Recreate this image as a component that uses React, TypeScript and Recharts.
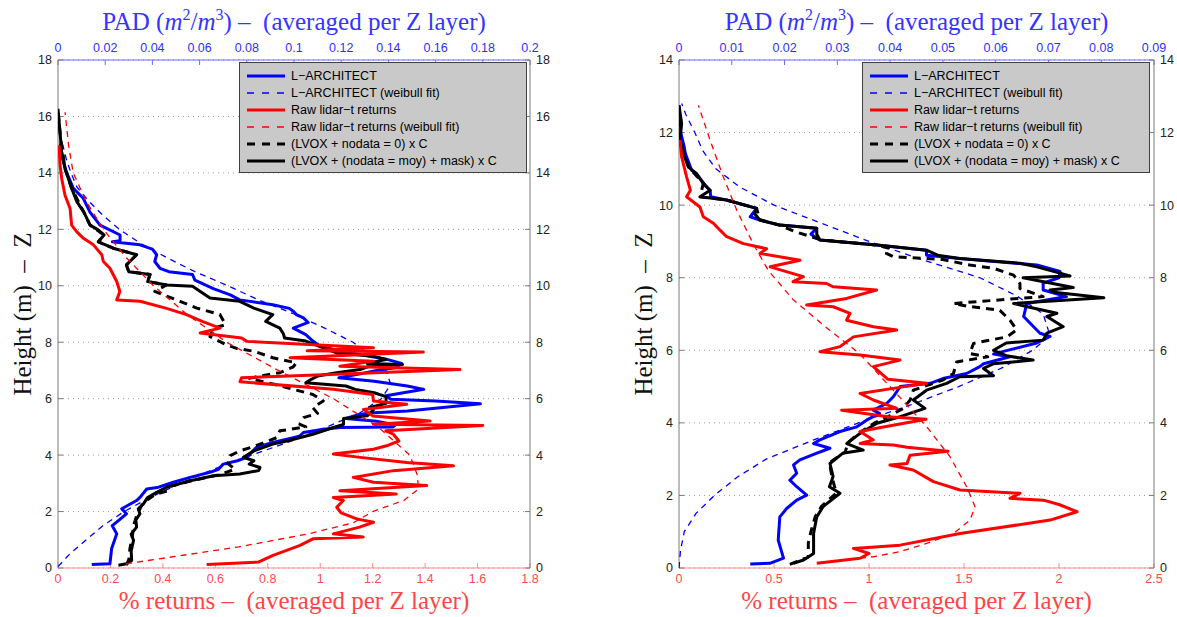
import React from 'react';
import { ScatterChart, Scatter, XAxis, YAxis, CartesianGrid, Legend, Label } from 'recharts';

type Pt = [number, number]; // [height (m), value]

// ---------------- Left panel ----------------
const leftPadTicks = [0, 0.02, 0.04, 0.06, 0.08, 0.1, 0.12, 0.14, 0.16, 0.18, 0.2];
const leftReturnTicks = [0, 0.2, 0.4, 0.6, 0.8, 1, 1.2, 1.4, 1.6, 1.8];
const leftHeightTicks = [0, 2, 4, 6, 8, 10, 12, 14, 16, 18];

const leftBlue: Pt[] = [
  [0.12, 0.0143], [0.15, 0.022], [0.68, 0.0227], [1.21, 0.0249], [1.5, 0.023], [1.68, 0.0256], [1.92, 0.029],
  [2.1, 0.027], [2.39, 0.0333], [2.5, 0.0347], [2.8, 0.0376], [2.85, 0.042], [3.04, 0.0489], [3.21, 0.056],
  [3.39, 0.0644], [3.5, 0.068], [3.68, 0.07], [3.8, 0.076], [3.92, 0.08], [4.1, 0.082], [4.27, 0.084],
  [4.45, 0.091], [4.62, 0.0997], [4.68, 0.1025], [4.8, 0.104], [4.92, 0.1124], [4.98, 0.1195], [5.0, 0.142],
  [5.07, 0.143], [5.2, 0.135], [5.3, 0.122], [5.45, 0.128], [5.5, 0.134], [5.56, 0.148], [5.68, 0.162],
  [5.82, 0.179], [5.92, 0.16], [5.98, 0.141], [6.1, 0.139], [6.33, 0.155], [6.45, 0.148], [6.62, 0.134],
  [6.74, 0.119], [6.86, 0.127], [7.0, 0.135], [7.1, 0.1435], [7.25, 0.1456], [7.4, 0.139], [7.56, 0.128],
  [7.7, 0.119], [7.86, 0.111], [8.04, 0.108], [8.27, 0.105], [8.5, 0.0997], [8.7, 0.106], [8.86, 0.104],
  [8.98, 0.101], [9.1, 0.0997], [9.2, 0.098], [9.33, 0.091], [9.5, 0.077], [9.68, 0.073], [9.9, 0.0658],
  [10.2, 0.058], [10.4, 0.057], [10.5, 0.047], [10.62, 0.0432], [10.86, 0.041], [11.1, 0.0418], [11.3, 0.04],
  [11.45, 0.0347], [11.56, 0.023], [11.6, 0.0263], [11.8, 0.0263], [12.15, 0.0178], [12.6, 0.0136],
  [13.1, 0.0107], [13.45, 0.0065], [14.04, 0.0035], [14.5, 0.002], [15.04, 0.001],
];

const leftBlueFit: Pt[] = [
  [0.05, 0], [0.5, 0.005], [1, 0.012], [1.5, 0.019], [2, 0.028], [2.5, 0.039], [3, 0.052], [3.5, 0.066],
  [4, 0.082], [4.5, 0.099], [5, 0.114], [5.5, 0.128], [6, 0.137], [6.5, 0.141], [7, 0.139], [7.5, 0.133],
  [8, 0.125], [8.5, 0.113], [9, 0.1], [9.5, 0.085], [10, 0.072], [10.5, 0.058], [11, 0.046], [11.5, 0.035],
  [12, 0.026], [12.5, 0.019], [13, 0.013], [13.5, 0.008], [14, 0.0055], [14.5, 0.0035], [15, 0.002],
];

const leftRed: Pt[] = [
  [0.12, 0.567], [0.21, 0.764], [0.45, 0.82], [0.8, 0.923], [1.04, 0.974], [1.1, 1.164], [1.21, 1.05],
  [1.45, 1.15], [1.62, 1.203], [1.74, 1.139], [1.95, 1.08], [2.15, 1.063], [2.39, 1.088], [2.5, 1.05],
  [2.62, 1.29], [2.74, 1.075], [2.92, 1.406], [3.04, 1.203], [3.21, 1.126], [3.45, 1.279], [3.62, 1.508],
  [3.74, 1.33], [3.92, 1.152], [4.04, 1.05], [4.21, 1.203], [4.33, 1.253], [4.5, 1.3], [4.74, 1.279],
  [4.86, 1.25], [5.05, 1.62], [5.09, 1.203], [5.21, 1.419], [5.39, 1.2], [5.62, 1.165], [5.8, 1.33],
  [5.92, 1.203], [6.15, 1.2], [6.33, 1.05], [6.6, 0.694], [6.74, 0.7], [6.86, 1.037], [7.03, 1.533],
  [7.15, 1.075], [7.33, 1.203], [7.45, 0.885], [7.65, 1.393], [7.7, 0.95], [7.8, 1.203], [8.03, 0.72],
  [8.15, 0.7], [8.33, 0.542], [8.5, 0.618], [8.74, 0.55], [8.98, 0.49], [9.2, 0.414], [9.45, 0.313],
  [9.5, 0.224], [9.8, 0.236], [10.15, 0.224], [10.62, 0.198], [10.86, 0.173], [11.1, 0.167], [11.45, 0.135],
  [11.68, 0.097], [11.92, 0.071], [12.15, 0.052], [12.74, 0.046], [13.2, 0.027], [13.8, 0.014], [14.27, 0.008],
  [14.98, 0.004],
];

const leftRedFit: Pt[] = [
  [0.15, 0.26], [0.4, 0.44], [0.75, 0.69], [1.2, 0.95], [1.6, 1.126], [2.0, 1.2], [2.4, 1.32], [2.8, 1.375],
  [3.3, 1.37], [4, 1.342], [5, 1.22], [6, 1.05], [7, 0.84], [8, 0.643], [9, 0.49], [10, 0.364], [11, 0.26],
  [12, 0.173], [13, 0.107], [14, 0.058], [15, 0.04], [16.15, 0.027],
];

const leftLvoxZero: Pt[] = [
  [0.1, 0.029], [0.3, 0.03], [0.7, 0.0305], [1.1, 0.0315], [1.5, 0.032], [1.9, 0.0335], [2.3, 0.036],
  [2.6, 0.041], [2.75, 0.047], [2.9, 0.048], [3.1, 0.057], [3.3, 0.068], [3.5, 0.075], [3.7, 0.072],
  [3.98, 0.073], [4.15, 0.077], [4.3, 0.0828], [4.62, 0.0927], [4.86, 0.094], [5.0, 0.105], [5.09, 0.1025],
  [5.33, 0.104], [5.48, 0.11], [5.68, 0.108], [5.92, 0.1124], [6.15, 0.108], [6.33, 0.0997], [6.5, 0.092],
  [6.72, 0.081], [6.8, 0.0856], [6.92, 0.094], [7.13, 0.0997], [7.27, 0.101], [7.45, 0.091], [7.68, 0.083],
  [7.78, 0.0757], [7.92, 0.071], [8.2, 0.0644], [8.5, 0.066], [8.62, 0.071], [8.98, 0.0686], [9.21, 0.0588],
  [9.45, 0.0517], [9.8, 0.041], [10.03, 0.046], [10.15, 0.038], [10.4, 0.039], [10.5, 0.03], [10.74, 0.029],
  [11.1, 0.0333], [11.33, 0.0234], [11.56, 0.0171], [11.8, 0.0195], [12.15, 0.0136], [12.6, 0.011],
  [13.45, 0.0058], [14.15, 0.003], [15.3, 0.001], [16.2, 0.0],
];

const leftLvoxMask: Pt[] = [
  [0.1, 0.0256], [0.15, 0.029], [0.27, 0.0312], [0.6, 0.031], [0.98, 0.032], [1.2, 0.031], [1.45, 0.0333],
  [1.7, 0.033], [1.92, 0.0347], [2.1, 0.034], [2.27, 0.0362], [2.5, 0.038], [2.68, 0.0418], [2.86, 0.046],
  [3.09, 0.056], [3.27, 0.066], [3.33, 0.077], [3.45, 0.085], [3.56, 0.0856], [3.68, 0.081], [3.8, 0.083],
  [3.92, 0.0786], [4.15, 0.083], [4.39, 0.091], [4.5, 0.097], [4.74, 0.108], [4.98, 0.1167], [5.09, 0.121],
  [5.3, 0.121], [5.39, 0.131], [5.6, 0.1336], [5.68, 0.132], [5.84, 0.139], [6.07, 0.139], [6.21, 0.134],
  [6.33, 0.126], [6.45, 0.122], [6.56, 0.105], [6.66, 0.1068], [6.8, 0.11], [6.92, 0.118], [7.03, 0.128],
  [7.15, 0.132], [7.21, 0.146], [7.25, 0.131], [7.39, 0.139], [7.5, 0.134], [7.62, 0.118], [7.72, 0.115],
  [8.04, 0.105], [8.15, 0.096], [8.3, 0.0955], [8.5, 0.094], [8.74, 0.088], [8.98, 0.091], [9.21, 0.083],
  [9.45, 0.077], [9.57, 0.0644], [9.98, 0.057], [10.03, 0.046], [10.15, 0.038], [10.4, 0.039], [10.5, 0.03],
  [10.74, 0.029], [11.1, 0.0333], [11.33, 0.0234], [11.56, 0.0171], [11.8, 0.0195], [11.98, 0.017],
  [12.15, 0.0136], [12.6, 0.011], [12.98, 0.008], [13.45, 0.0058], [14.15, 0.003], [14.74, 0.0015],
  [15.3, 0.001], [16.27, 0.0],
];

// ---------------- Right panel ----------------
const rightPadTicks = [0, 0.01, 0.02, 0.03, 0.04, 0.05, 0.06, 0.07, 0.08, 0.09];
const rightReturnTicks = [0, 0.5, 1, 1.5, 2, 2.5];
const rightHeightTicks = [0, 2, 4, 6, 8, 10, 12, 14];

const rightBlue: Pt[] = [
  [0.11, 0.0135], [0.13, 0.0172], [0.27, 0.0198], [0.77, 0.0188], [1.41, 0.0191], [1.64, 0.0204],
  [1.87, 0.0223], [2.01, 0.0242], [2.24, 0.0223], [2.42, 0.021], [2.61, 0.0223], [2.84, 0.0217],
  [2.98, 0.0229], [3.16, 0.026], [3.3, 0.0286], [3.43, 0.0255], [3.53, 0.0267], [3.76, 0.0305],
  [3.89, 0.0337], [4.08, 0.0356], [4.26, 0.038], [4.35, 0.0368], [4.54, 0.0394], [4.72, 0.0406],
  [5.0, 0.0419], [5.09, 0.0476], [5.22, 0.05], [5.36, 0.0545], [5.55, 0.057], [5.63, 0.0577],
  [5.82, 0.0627], [5.9, 0.0596], [6.2, 0.0678], [6.38, 0.0703], [6.47, 0.0684], [6.75, 0.0665],
  [6.93, 0.0653], [7.29, 0.0659], [7.48, 0.0734], [7.66, 0.069], [7.85, 0.069], [8.0, 0.072],
  [8.17, 0.0722], [8.35, 0.0678], [8.53, 0.0532], [8.62, 0.0469], [8.76, 0.0469], [8.9, 0.0375],
  [9.04, 0.0267], [9.2, 0.025], [9.36, 0.0261], [9.45, 0.0191], [9.59, 0.0153], [9.68, 0.0135],
  [9.91, 0.0147], [10.14, 0.009], [10.23, 0.006], [10.41, 0.0059], [10.5, 0.0052], [10.87, 0.0033],
  [10.96, 0.0024], [11.42, 0.0012], [11.6, 0.001], [12.07, 0.0002], [12.75, 0.0],
];

const rightBlueFit: Pt[] = [
  [0, 0], [0.5, 0.0003], [1, 0.001], [1.5, 0.0032], [2, 0.0067], [2.5, 0.011], [3, 0.0165], [3.5, 0.025],
  [4, 0.034], [4.5, 0.044], [5, 0.053], [5.5, 0.061], [6, 0.067], [6.4, 0.0703], [7, 0.069], [7.5, 0.064],
  [8, 0.057], [8.5, 0.046], [9, 0.036], [9.5, 0.027], [10, 0.018], [10.5, 0.0115], [11, 0.007],
  [11.5, 0.0045], [12, 0.003], [12.5, 0.0013], [12.8, 0.0005],
];

const rightRed: Pt[] = [
  [0.13, 0.725], [0.27, 0.953], [0.4, 1.0], [0.54, 0.918], [0.63, 1.163], [0.95, 1.479], [1.32, 1.953],
  [1.55, 2.095], [1.75, 2.0], [1.87, 1.918], [1.92, 1.742], [2.06, 1.795], [2.15, 1.479], [2.38, 1.339],
  [2.7, 1.233], [2.84, 1.11], [2.88, 1.2], [3.11, 1.216], [3.22, 1.416], [3.33, 1.2], [3.39, 1.128],
  [3.43, 0.953], [3.53, 1.023], [3.76, 0.953], [3.85, 1.04], [4.1, 1.3], [4.17, 1.1], [4.35, 0.856],
  [4.4, 1.146], [4.63, 1.023], [4.81, 0.953], [4.95, 1.128], [5.09, 1.304], [5.2, 1.1], [5.55, 1.023],
  [5.73, 1.163], [5.87, 0.953], [5.96, 0.742], [6.1, 0.847], [6.37, 0.918], [6.56, 1.146], [6.65, 1.023],
  [6.83, 0.882], [7.02, 0.9], [7.2, 0.812], [7.25, 0.672], [7.43, 0.882], [7.66, 1.04], [7.75, 0.812],
  [7.84, 0.777], [7.89, 0.6], [8.03, 0.654], [8.3, 0.48], [8.48, 0.637], [8.67, 0.426], [8.8, 0.461],
  [8.94, 0.339], [9.13, 0.251], [9.31, 0.216], [9.5, 0.181], [9.68, 0.128], [9.95, 0.11], [10.23, 0.04],
  [10.41, 0.06], [10.78, 0.04], [11.33, 0.014], [11.8, 0.005],
];

const rightRedFit: Pt[] = [
  [0.27, 0.953], [0.31, 1.023], [0.45, 1.163], [0.68, 1.304], [0.95, 1.444], [1.32, 1.532], [1.69, 1.558],
  [2.24, 1.514], [3.07, 1.426], [3.89, 1.304], [4.9, 1.128], [5.91, 0.95], [6.65, 0.77], [7.4, 0.6],
  [8.2, 0.47], [8.94, 0.39], [9.86, 0.304], [10.78, 0.233], [11.8, 0.163], [12.75, 0.102],
];

const rightLvoxZero: Pt[] = [
  [0.1, 0.021], [0.3, 0.0245], [0.7, 0.0245], [1.0, 0.025], [1.41, 0.0258], [1.7, 0.027], [2.06, 0.0298],
  [2.5, 0.029], [2.9, 0.0285], [3.2, 0.0315], [3.45, 0.032], [3.71, 0.034], [3.99, 0.037], [4.2, 0.04],
  [4.4, 0.0425], [4.63, 0.0438], [4.9, 0.0444], [5.18, 0.05], [5.36, 0.052], [5.68, 0.0526], [5.82, 0.0585],
  [5.91, 0.0551], [6.19, 0.0558], [6.37, 0.0621], [6.56, 0.064], [6.83, 0.0627], [7.1, 0.0608],
  [7.22, 0.0545], [7.29, 0.052], [7.38, 0.06], [7.48, 0.069], [7.7, 0.0646], [7.84, 0.0646], [8.07, 0.0634],
  [8.26, 0.0596], [8.35, 0.0551], [8.5, 0.05], [8.58, 0.0406], [8.67, 0.0393], [8.8, 0.04], [8.9, 0.0375],
  [9.04, 0.027], [9.27, 0.022], [9.45, 0.019], [9.6, 0.0153], [9.91, 0.0147], [10.14, 0.009], [10.23, 0.004],
  [10.6, 0.0046], [11.05, 0.0018], [11.8, 0.0002], [12.7, 0.0],
];

const rightLvoxMask: Pt[] = [
  [0.13, 0.0217], [0.22, 0.0236], [0.4, 0.0255], [0.95, 0.0255], [1.41, 0.0261], [1.69, 0.0273],
  [2.06, 0.0305], [2.24, 0.0285], [2.52, 0.0292], [2.88, 0.0286], [3.16, 0.031], [3.25, 0.0349],
  [3.43, 0.0318], [3.71, 0.0343], [3.99, 0.0375], [4.17, 0.0419], [4.4, 0.0466], [4.63, 0.0444],
  [4.9, 0.0469], [5.09, 0.0507], [5.27, 0.0532], [5.3, 0.0596], [5.5, 0.0577], [5.63, 0.0596],
  [5.73, 0.0671], [5.85, 0.062], [6.0, 0.0596], [6.2, 0.062], [6.28, 0.069], [6.47, 0.0697], [6.65, 0.0728],
  [6.93, 0.0697], [7.02, 0.0716], [7.2, 0.066], [7.29, 0.0634], [7.45, 0.0805], [7.6, 0.071], [7.66, 0.0703],
  [7.73, 0.0747], [8.0, 0.0652], [8.05, 0.0741], [8.3, 0.0678], [8.4, 0.0646], [8.53, 0.0532], [8.62, 0.049],
  [8.76, 0.0469], [8.9, 0.0375], [9.04, 0.0267], [9.2, 0.0261], [9.36, 0.0261], [9.45, 0.0191],
  [9.59, 0.0153], [9.77, 0.0143], [9.91, 0.0147], [10.14, 0.009], [10.23, 0.004], [10.41, 0.0059],
  [10.6, 0.0046], [10.87, 0.0033], [11.05, 0.0018], [11.42, 0.0008], [11.8, 0.0002], [12.25, 0.0005],
  [12.75, 0.0],
];

// ---------------- Styles ----------------
const BLUE = '#0000ff';
const RED = '#ff0000';
const BLACK = '#000000';
const serif = "'Liberation Serif', 'DejaVu Serif', serif";
const sans = "'Liberation Sans', Arial, sans-serif";

interface SeriesStyle { name: string; color: string; width: number; dash?: string; axis: 'pad' | 'ret'; legendDash?: string }

const STYLE_BLUE: SeriesStyle = { name: 'L\u2212ARCHITECT', color: BLUE, width: 3, axis: 'pad' };
const STYLE_BLUE_FIT: SeriesStyle = { name: 'L\u2212ARCHITECT (weibull fit)', color: BLUE, width: 1.3, dash: '6 5', axis: 'pad', legendDash: '7 8' };
const STYLE_RED: SeriesStyle = { name: 'Raw lidar\u2212t returns', color: RED, width: 3, axis: 'ret' };
const STYLE_RED_FIT: SeriesStyle = { name: 'Raw lidar\u2212t returns (weibull fit)', color: RED, width: 1.3, dash: '6 5', axis: 'ret', legendDash: '7 8' };
const STYLE_LVOX0: SeriesStyle = { name: '(LVOX + nodata = 0) x C', color: BLACK, width: 3, dash: '8 6', axis: 'pad', legendDash: '8 7' };
const STYLE_LVOXM: SeriesStyle = { name: '(LVOX + (nodata = moy) + mask) x C', color: BLACK, width: 3, axis: 'pad' };

const LEGEND_ORDER = [STYLE_BLUE, STYLE_BLUE_FIT, STYLE_RED, STYLE_RED_FIT, STYLE_LVOX0, STYLE_LVOXM];

const toXY = (arr: Pt[]) => arr.map(([h, v]) => ({ x: v, y: h }));
const NoDot = () => <g />;

const LegendBox = () => (
  <div
    style={{
      width: 288,
      height: 111,
      background: '#c9c9c9',
      border: '1px solid #404040',
      boxSizing: 'border-box',
      paddingTop: 4,
      fontFamily: sans,
      fontSize: 12.5,
      color: '#000',
    }}
  >
    {LEGEND_ORDER.map((s) => (
      <div key={s.name} style={{ display: 'flex', alignItems: 'center', height: 17, whiteSpace: 'nowrap' }}>
        <svg width={51} height={10} style={{ flex: 'none', display: 'block' }}>
          <line x1={7} x2={45} y1={5} y2={5} stroke={s.color} strokeWidth={s.width === 3 ? 3 : 1.5} strokeDasharray={s.legendDash} />
        </svg>
        <span>{s.name}</span>
      </div>
    ))}
  </div>
);

interface PanelProps {
  left: number;
  width: number;
  margin: { top: number; right: number; bottom: number; left: number };
  yWidthL: number;
  yWidthR: number;
  padMax: number;
  padTicks: number[];
  retMax: number;
  retTicks: number[];
  hMax: number;
  hTicks: number[];
  legendX: number;
  yLabelX: number;
  series: { style: SeriesStyle; data: Pt[] }[];
}

const H = 617;
const TITLE_SIZE = 25;

const Panel = (p: PanelProps) => {
  const plotL = p.margin.left + p.yWidthL;
  const plotR = p.width - p.margin.right - p.yWidthR;
  const cx = (plotL + plotR) / 2;
  const plotT = 60;
  const plotB = 568;
  const cy = (plotT + plotB) / 2;
  return (
    <div style={{ position: 'absolute', left: p.left, top: 0 }}>
      <ScatterChart width={p.width} height={H} margin={p.margin}>
        <CartesianGrid
          xAxisId="ret"
          yAxisId="hl"
          vertical={false}
          stroke="#9a9a9a"
          strokeDasharray="1 4"
          strokeWidth={1}
        />
        <XAxis
          xAxisId="pad"
          orientation="top"
          type="number"
          dataKey="x"
          domain={[0, p.padMax]}
          ticks={p.padTicks}
          interval={0}
          allowDataOverflow
          height={25}
          stroke="#6b6bff"
          tickSize={-5}
          tickMargin={13}
          tick={{ fill: '#2f2fff', fontSize: 12.5, fontFamily: sans }}
        >
          <Label
            content={() => (
              <text x={cx} y={30} textAnchor="middle" fill="#3535ff" fontFamily={serif} fontSize={TITLE_SIZE} style={{ whiteSpace: 'pre' }}>
                PAD (<tspan fontStyle="italic">m</tspan>
                <tspan dy={-10} fontSize={16}>2</tspan>
                <tspan dy={10}>/</tspan>
                <tspan fontStyle="italic">m</tspan>
                <tspan dy={-10} fontSize={16}>3</tspan>
                <tspan dy={10}>{') \u2013  (averaged per Z layer)'}</tspan>
              </text>
            )}
          />
        </XAxis>
        <XAxis
          xAxisId="ret"
          orientation="bottom"
          type="number"
          dataKey="x"
          domain={[0, p.retMax]}
          ticks={p.retTicks}
          interval={0}
          allowDataOverflow
          height={25}
          stroke="#ff8a8a"
          tickSize={-5}
          tickMargin={11}
          tick={{ fill: '#ff4a4a', fontSize: 12.5, fontFamily: sans }}
        >
          <Label
            content={() => (
              <text x={cx} y={609} textAnchor="middle" fill="#ff4545" fontFamily={serif} fontSize={TITLE_SIZE} style={{ whiteSpace: 'pre' }}>
                {'% returns \u2013  (averaged per Z layer)'}
              </text>
            )}
          />
        </XAxis>
        <YAxis
          yAxisId="hl"
          orientation="left"
          type="number"
          dataKey="y"
          domain={[0, p.hMax]}
          ticks={p.hTicks}
          interval={0}
          allowDataOverflow
          width={p.yWidthL}
          stroke="#7a7a7a"
          tickSize={-5}
          tickMargin={11}
          tick={{ fill: '#222', fontSize: 12.5, fontFamily: sans }}
        >
          <Label
            content={() => (
              <text
                x={p.yLabelX}
                y={cy}
                transform={`rotate(-90 ${p.yLabelX} ${cy})`}
                textAnchor="middle"
                dominantBaseline="central"
                fill="#111"
                fontFamily={serif}
                fontSize={TITLE_SIZE}
                style={{ whiteSpace: 'pre' }}
              >
                {'Height (m)  \u2013  Z'}
              </text>
            )}
          />
        </YAxis>
        <YAxis
          yAxisId="hr"
          orientation="right"
          type="number"
          dataKey="y"
          domain={[0, p.hMax]}
          ticks={p.hTicks}
          interval={0}
          allowDataOverflow
          width={p.yWidthR}
          stroke="#7a7a7a"
          tickSize={-5}
          tickMargin={11}
          tick={{ fill: '#222', fontSize: 12.5, fontFamily: sans }}
        />
        {p.series.map(({ style, data }) => (
          <Scatter
            key={style.name}
            name={style.name}
            data={toXY(data)}
            xAxisId={style.axis}
            yAxisId="hl"
            fill={style.color}
            line={{ stroke: style.color, strokeWidth: style.width, strokeDasharray: style.dash, strokeLinejoin: 'round' }}
            lineType="joint"
            shape={NoDot}
            isAnimationActive={false}
          />
        ))}
        <Legend
          layout="horizontal"
          verticalAlign="middle"
          align="center"
          content={() => <LegendBox />}
          wrapperStyle={{ left: p.legendX, top: 62, width: 288, height: 111 }}
        />
      </ScatterChart>
    </div>
  );
};

export default function App() {
  return (
    <div style={{ position: 'absolute', left: 0, top: 0, width: 1177, height: 617, background: '#fff', overflow: 'hidden' }}>
      <Panel
        left={0}
        width={590}
        margin={{ top: 35, right: 30, bottom: 24, left: 28 }}
        yWidthL={30}
        yWidthR={30}
        padMax={0.2}
        padTicks={leftPadTicks}
        retMax={1.8}
        retTicks={leftReturnTicks}
        hMax={18}
        hTicks={leftHeightTicks}
        legendX={239}
        yLabelX={22}
        series={[
          { style: STYLE_BLUE, data: leftBlue },
          { style: STYLE_BLUE_FIT, data: leftBlueFit },
          { style: STYLE_LVOX0, data: leftLvoxZero },
          { style: STYLE_LVOXM, data: leftLvoxMask },
          { style: STYLE_RED, data: leftRed },
          { style: STYLE_RED_FIT, data: leftRedFit },
        ]}
      />
      <Panel
        left={590}
        width={587}
        margin={{ top: 35, right: 3, bottom: 24, left: 59 }}
        yWidthL={30}
        yWidthR={20}
        padMax={0.09}
        padTicks={rightPadTicks}
        retMax={2.5}
        retTicks={rightReturnTicks}
        hMax={14}
        hTicks={rightHeightTicks}
        legendX={272}
        yLabelX={53}
        series={[
          { style: STYLE_BLUE, data: rightBlue },
          { style: STYLE_BLUE_FIT, data: rightBlueFit },
          { style: STYLE_LVOX0, data: rightLvoxZero },
          { style: STYLE_LVOXM, data: rightLvoxMask },
          { style: STYLE_RED, data: rightRed },
          { style: STYLE_RED_FIT, data: rightRedFit },
        ]}
      />
    </div>
  );
}
